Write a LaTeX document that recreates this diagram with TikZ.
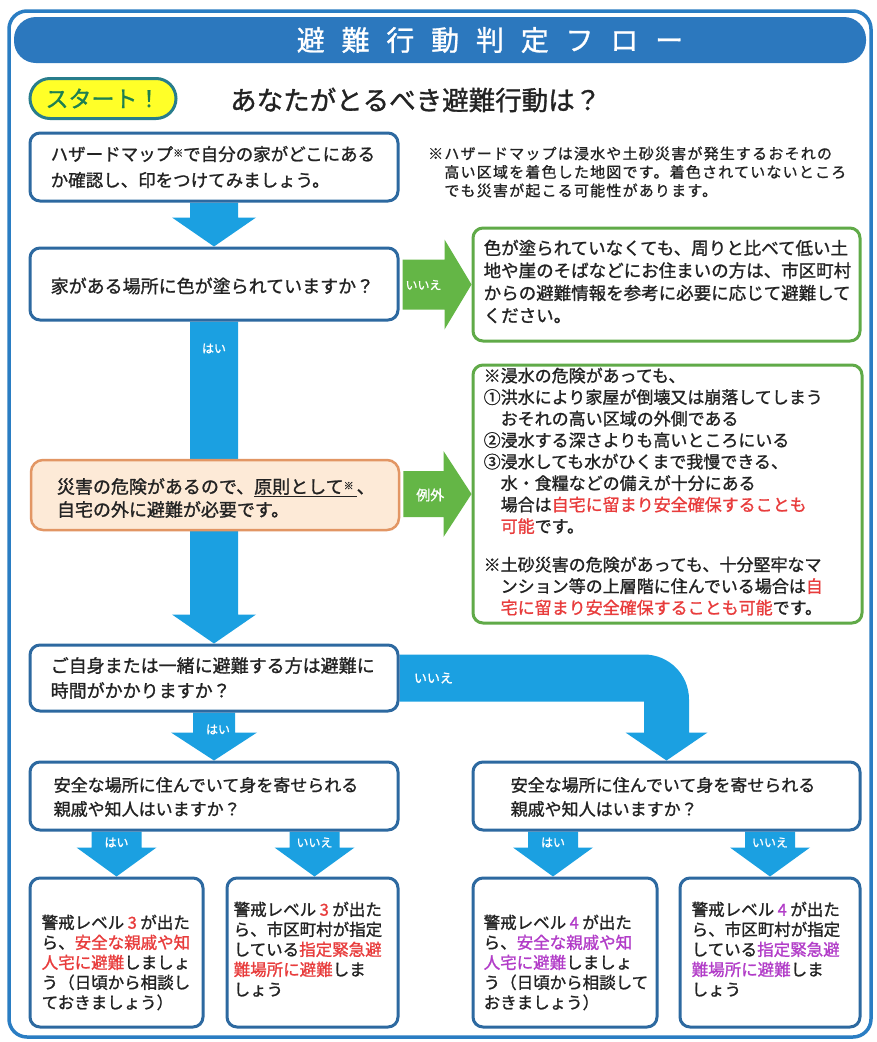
\documentclass[tikz,border=0pt]{standalone}
\usepackage{fontspec}
\setmainfont{Noto Sans CJK JP}[FakeBold=1.2]
\newfontfamily\titlefont[LetterSpace=60,FakeBold=1.0]{Noto Sans CJK JP}
\newfontfamily\notefont[LetterSpace=8,FakeBold=1.0]{Noto Sans CJK JP}
\usetikzlibrary{calc}
\pgfdeclarelayer{bg}
\pgfsetlayers{bg,main}
\definecolor{framec}{RGB}{42,125,195}
\definecolor{titlec}{RGB}{44,120,190}
\definecolor{boxblue}{RGB}{45,105,160}
\definecolor{arrowblue}{RGB}{27,160,225}
\definecolor{greenline}{RGB}{96,170,72}
\definecolor{arrowgreen}{RGB}{100,182,70}
\definecolor{orangeline}{RGB}{226,150,100}
\definecolor{orangefill}{RGB}{253,234,215}
\definecolor{textc}{RGB}{35,35,35}
\definecolor{alertred}{RGB}{232,60,60}
\definecolor{alertpurple}{RGB}{178,60,200}
\definecolor{startfill}{RGB}{255,255,40}
\definecolor{startborder}{RGB}{40,125,140}
\definecolor{startgreen}{RGB}{30,128,80}
\newcommand{\rd}[1]{\textcolor{alertred}{#1}}
\newcommand{\pu}[1]{\textcolor{alertpurple}{#1}}
\newcommand{\smallmark}{{\fontsize{10}{10}\selectfont\raisebox{4pt}{※}}}
\newcommand{\lvl}[2]{\hspace{3.5pt}\textcolor{#1}{#2}\hspace{3.5pt}}
% color, top (y source), tip, shaft half width, head half width, head length
\newcommand{\downblock}[6]{%
  \fill[#1] let \p1=(#2), \p2=(#3) in
  (\x2-#4,\y1) -- (\x2+#4,\y1) -- (\x2+#4,\y2+#6) -- (\x2+#5,\y2+#6) -- (\x2,\y2)
  -- (\x2-#5,\y2+#6) -- (\x2-#4,\y2+#6) -- cycle;}
% color, start (x source), tip, shaft half height, head half height, head length
\newcommand{\rightblock}[6]{%
  \fill[#1] let \p1=(#2), \p2=(#3) in
  (\x1,\y2+#4) -- (\x2-#6,\y2+#4) -- (\x2-#6,\y2+#5) -- (\x2,\y2)
  -- (\x2-#6,\y2-#5) -- (\x2-#6,\y2-#4) -- (\x1,\y2-#4) -- cycle;}
\begin{document}
\begin{tikzpicture}[x=1pt,y=-1pt,
  bluebox/.style={draw=boxblue,line width=3pt,rounded corners=10pt,fill=white,inner sep=0pt},
  greenbox/.style={draw=greenline,line width=3pt,rounded corners=10pt,fill=white,inner sep=0pt},
  orangebox/.style={draw=orangeline,line width=2.5pt,rounded corners=12pt,fill=orangefill,inner sep=0pt},
  txt/.style={anchor=west,align=left,inner sep=0pt,text=textc},
  txtnw/.style={anchor=north west,align=left,inner sep=0pt,text=textc},
  albl/.style={text=white,inner sep=0pt,font=\fontsize{12}{12}\selectfont}]
\useasboundingbox (0,0) rectangle (876,1042);
\begin{pgfonlayer}{bg}
\fill[white] (0,0) rectangle (876,1042);
\draw[framec,line width=3.5pt,rounded corners=18pt] (9,11) rectangle (871,1037);
\fill[titlec,rounded corners=22pt] (14,17) rectangle (866,63);
\end{pgfonlayer}
\node[text=white,font=\titlefont\fontsize{28}{28}\selectfont] (title) at (490,40) {避難行動判定フロー};

% start
\node[draw=startborder,line width=3pt,fill=startfill,rounded corners=20pt,
  minimum width=146pt,minimum height=40pt,inner sep=0pt,text=startgreen,
  font=\fontsize{23}{23}\selectfont] (start) at (103,98.5) {スタート！};
\node[txt,font=\fontsize{26.5}{26.5}\selectfont] (head) at (230,100) {あなたがとるべき避難行動は？};

% boxes
\node[bluebox,minimum width=368pt,minimum height=68pt] (b1) at (214,167) {};
\node[txt,font=\fontsize{17.5}{26}\selectfont] (t1) at ($(b1.west)+(22,0)$)
  {ハザードマップ\smallmark で自分の家がどこにある\\か確認し、印をつけてみましょう。};
\node[txt,font=\notefont\fontsize{15}{18.5}\selectfont] (note) at (428,172)
  {※ハザードマップは浸水や土砂災害が発生するおそれの\\　高い区域を着色した地図です。着色されていないところ\\　でも災害が起こる可能性があります。};

\node[bluebox,minimum width=368pt,minimum height=72pt] (b2) at (214,284) {};
\node[txt,font=\fontsize{18}{24}\selectfont] (t2) at ($(b2.west)+(22,2)$)
  {家がある場所に色が塗られていますか？};

\node[greenbox,minimum width=387pt,minimum height=113pt] (g1) at (666.5,284.5) {};
\node[txt,font=\fontsize{17.5}{22.5}\selectfont] (tg1) at ($(g1.west)+(12,-3)$)
  {色が塗られていなくても、周りと比べて低い土\\地や崖のそばなどにお住まいの方は、市区町村\\からの避難情報を参考に必要に応じて避難して\\ください。};

\node[orangebox,minimum width=368pt,minimum height=70pt] (o1) at (215,495) {};
\node[txt,font=\fontsize{18}{23}\selectfont] (to1) at ($(o1.west)+(27,3)$)
  {災害の危険があるので、\underline{原則として\smallmark\,}、\\自宅の外に避難が必要です。};

\node[greenbox,minimum width=389pt,minimum height=258pt] (g2) at (667.5,494) {};
\node[txtnw,font=\fontsize{17}{21.5}\selectfont] (tg2) at ($(g2.north west)+(12,4)$)
  {※浸水の危険があっても、\\
  ①洪水により家屋が倒壊又は崩落してしまう\\
  　おそれの高い区域の外側である\\
  ②浸水する深さよりも高いところにいる\\
  ③浸水しても水がひくまで我慢できる、\\
  　水・食糧などの備えが十分にある\\
  　場合は\rd{自宅に留まり安全確保することも}\\
  　\rd{可能}です。\\[17pt]
  ※土砂災害の危険があっても、十分堅牢なマ\\
  　ンション等の上層階に住んでいる場合は\rd{自}\\
  　\rd{宅に留まり安全確保することも可能}です。};

\node[bluebox,minimum width=368pt,minimum height=66pt] (b3) at (214,678) {};
\node[txt,font=\fontsize{18}{25}\selectfont] (t3) at ($(b3.west)+(22,0)$)
  {ご自身または一緒に避難する方は避難に\\時間がかかりますか？};

\node[bluebox,minimum width=368pt,minimum height=68pt] (b4l) at (214,796) {};
\node[txt,font=\fontsize{17}{24}\selectfont] (t4l) at ($(b4l.west)+(25,1)$)
  {安全な場所に住んでいて身を寄せられる\\親戚や知人はいますか？};
\node[bluebox,minimum width=387pt,minimum height=68pt] (b4r) at (666.5,796) {};
\node[txt,font=\fontsize{17}{24}\selectfont] (t4r) at ($(b4r.west)+(39,1)$)
  {安全な場所に住んでいて身を寄せられる\\親戚や知人はいますか？};

% bottom boxes
\node[bluebox,minimum width=173pt,minimum height=149pt] (bb1) at (116.5,952.5) {};
\node[bluebox,minimum width=171pt,minimum height=149pt] (bb2) at (312.5,952.5) {};
\node[bluebox,minimum width=184pt,minimum height=149pt] (bb3) at (565,952.5) {};
\node[bluebox,minimum width=180pt,minimum height=149pt] (bb4) at (770,952.5) {};
\node[txtnw,font=\fontsize{16.5}{20}\selectfont] (bt1) at ($(bb1.north west)+(13,38)$)
  {警戒レベル\lvl{alertred}{3}が出た\\ら、\rd{安全な親戚や知}\\\rd{人宅に避難}しましょ\\う（日頃から相談し\\ておきましょう）};
\node[txtnw,font=\fontsize{16.5}{20}\selectfont] (bt2) at ($(bb2.north west)+(8,25)$)
  {警戒レベル\lvl{alertred}{3}が出た\\ら、市区町村が指定\\している\rd{指定緊急避}\\\rd{難場所に避難}しま\\しょう};
\node[txtnw,font=\fontsize{16.5}{20}\selectfont] (bt3) at ($(bb3.north west)+(12,38)$)
  {警戒レベル\lvl{alertpurple}{4}が出た\\ら、\pu{安全な親戚や知}\\\pu{人宅に避難}しましょ\\う（日頃から相談して\\おきましょう）};
\node[txtnw,font=\fontsize{16.5}{20}\selectfont] (bt4) at ($(bb4.north west)+(13,25)$)
  {警戒レベル\lvl{alertpurple}{4}が出た\\ら、市区町村が指定\\している\pu{指定緊急避}\\\pu{難場所に避難}しま\\しょう};

% arrows (behind boxes)
\begin{pgfonlayer}{bg}
\downblock{arrowblue}{b1.south}{b2.north}{24pt}{42pt}{29pt}
\downblock{arrowblue}{b2.south}{b3.north}{24pt}{42pt}{29pt}
\downblock{arrowblue}{b3.south}{b4l.north}{21pt}{43pt}{28pt}
\downblock{arrowblue}{b4l.south}{bb1.north}{25pt}{40pt}{29pt}
\downblock{arrowblue}{b4l.south}{$(bb2.north)+(2,0)$}{25pt}{40pt}{29pt}
\downblock{arrowblue}{b4r.south}{$(bb3.north)+(-12,0)$}{25pt}{40pt}{29pt}
\downblock{arrowblue}{b4r.south}{bb4.north}{25pt}{40pt}{29pt}
\rightblock{arrowgreen}{$(b2.east)+(3,0)$}{g1.west}{25pt}{45pt}{27pt}
\rightblock{arrowgreen}{$(o1.east)+(3,0)$}{g2.west}{23pt}{43pt}{28pt}
\fill[arrowblue] let \p1=(b3.east), \p2=(b4r.north) in
  (\x1,\y1+23.5pt) -- (\x2-22.5pt,\y1+23.5pt)
  .. controls (\x2+2.5pt,\y1+23.5pt) and (\x2+22.5pt,\y1+3.5pt) .. (\x2+22.5pt,\y1-21.5pt)
  -- (\x2+22.5pt,\y2+28pt) -- (\x2+41pt,\y2+28pt) -- (\x2,\y2)
  -- (\x2-41pt,\y2+28pt) -- (\x2-22.5pt,\y2+28pt) -- (\x2-22.5pt,\y1-23.5pt)
  -- (\x1,\y1-23.5pt) -- cycle;
\end{pgfonlayer}

% arrow labels
\node[albl] (l1) at ($(b2.south)+(0,27)$) {はい};
\node[albl] (l2) at ($(b2.east)+(24,1)$) {いいえ};
\node[albl,font=\fontsize{14}{14}\selectfont] (l3) at ($(o1.east)+(30,0)$) {例外};
\node[albl,font=\fontsize{13}{13}\selectfont] (l4) at ($(b3.east)+(34,0)$) {いいえ};
\node[albl] (l5) at ($(b3.south)+(4,17)$) {はい};
\node[albl] (l6) at ($(bb1.north)+(0,-34)$) {はい};
\node[albl] (l7) at ($(bb2.north)+(2,-34)$) {いいえ};
\node[albl] (l8) at ($(bb3.north)+(-12,-34)$) {はい};
\node[albl] (l9) at ($(bb4.north)+(0,-34)$) {いいえ};
\end{tikzpicture}
\end{document}
